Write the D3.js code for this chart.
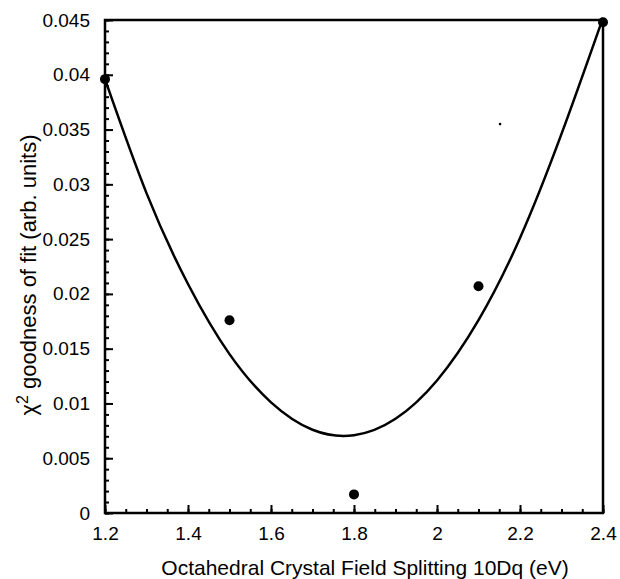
<!DOCTYPE html>
<html><head><meta charset="utf-8">
<script src="https://cdn.jsdelivr.net/npm/d3@7"></script>
<style>
html,body{margin:0;padding:0;background:#fff;}
svg{display:block;font-family:"Liberation Sans",Arial,Helvetica,sans-serif;}
</style></head>
<body>
<script>
// Data
const pointX = [1.2, 1.5, 1.8, 2.1, 2.4];
const pointY = [0.0396, 0.0176, 0.0017, 0.0207, 0.0448];
const curveX = [1.2, 1.3, 1.4, 1.5, 1.6, 1.7, 1.8, 1.9, 2.0, 2.1, 2.2, 2.3, 2.4];
const curveY = [0.0396, 0.0292, 0.0209, 0.0145, 0.0101, 0.0076, 0.0071, 0.0086, 0.0121, 0.0176, 0.0251, 0.0346, 0.0452];
const speckX = [2.152];
const speckY = [0.0355];
const xTicks = [1.2, 1.4, 1.6, 1.8, 2.0, 2.2, 2.4];
const xTickLabels = ["1.2", "1.4", "1.6", "1.8", "2", "2.2", "2.4"];
const yTicks = [0, 0.005, 0.01, 0.015, 0.02, 0.025, 0.03, 0.035, 0.04, 0.045];
const yTickLabels = ["0", "0.005", "0.01", "0.015", "0.02", "0.025", "0.03", "0.035", "0.04", "0.045"];
const xTitle = "Octahedral Crystal Field Splitting 10Dq (eV)";

const W = 620, H = 579;
const m = {left: 105, right: 17, top: 20, bottom: 66};
const svg = d3.select("body").append("svg").attr("width", W).attr("height", H);
const x = d3.scaleLinear().domain([1.2, 2.4]).range([m.left, W - m.right]);
const y = d3.scaleLinear().domain([0, 0.045]).range([H - m.bottom, m.top]);

const g = svg.append("g");
// minor ticks
const xMinor = d3.range(0, 25).map(i => 1.2 + i * 0.05);
const yMinor = d3.range(0, 46).map(i => i * 0.001);

const xAxis = d3.axisBottom(x).tickValues(xMinor).tickSize(-4).tickFormat("");
g.append("g").attr("transform", `translate(0,${y(0)})`).call(xAxis);
const xAxisMaj = d3.axisBottom(x).tickValues(xTicks).tickSize(-8).tickPadding(12)
  .tickFormat((d, i) => xTickLabels[i]);
const gx = g.append("g").attr("transform", `translate(0,${y(0)})`).call(xAxisMaj);
gx.selectAll("text").attr("font-size", 19).attr("fill", "#000").attr("dy", null).attr("y", 27);

const yAxis = d3.axisLeft(y).tickValues(yMinor).tickSize(-4).tickFormat("");
g.append("g").attr("transform", `translate(${x(1.2)},0)`).call(yAxis);
const yAxisMaj = d3.axisLeft(y).tickValues(yTicks).tickSize(-8).tickPadding(14)
  .tickFormat((d, i) => yTickLabels[i]);
const gy = g.append("g").attr("transform", `translate(${x(1.2)},0)`).call(yAxisMaj);
gy.selectAll("text").attr("font-size", 19).attr("fill", "#000").attr("x", -15);

svg.selectAll(".domain").remove();
svg.selectAll(".tick line").attr("stroke", "#000").attr("stroke-width", 2);

// frame
svg.append("rect").attr("x", x(1.2)).attr("y", y(0.045))
  .attr("width", x(2.4) - x(1.2)).attr("height", y(0) - y(0.045))
  .attr("fill", "none").attr("stroke", "#000").attr("stroke-width", 2.5);

// fitted curve
const line = d3.line().x(d => x(d[0])).y(d => y(d[1])).curve(d3.curveNatural);
svg.append("path").datum(curveX.map((v, i) => [v, curveY[i]]))
  .attr("d", line).attr("fill", "none").attr("stroke", "#000").attr("stroke-width", 2.5);

// points
svg.selectAll("circle.pt").data(pointX.map((v, i) => [v, pointY[i]])).enter()
  .append("circle").attr("class", "pt")
  .attr("cx", d => x(d[0])).attr("cy", d => y(d[1])).attr("r", 5).attr("fill", "#000");
svg.selectAll("circle.sp").data(speckX.map((v, i) => [v, speckY[i]])).enter()
  .append("circle").attr("class", "sp")
  .attr("cx", d => x(d[0])).attr("cy", d => y(d[1])).attr("r", 1.3).attr("fill", "#000");

// titles
svg.append("text").attr("x", 365).attr("y", 575)
  .attr("text-anchor", "middle").attr("font-size", 21).attr("fill", "#000").text(xTitle);

const yt = svg.append("text").attr("transform", `translate(36,275) rotate(-90)`)
  .attr("text-anchor", "middle").attr("font-size", 22).attr("fill", "#000");
yt.append("tspan").text("χ");
yt.append("tspan").attr("font-size", 16).attr("dy", -8).text("2");
yt.append("tspan").attr("dy", 8).text(" goodness of fit (arb. units)");
</script>
</body></html>
